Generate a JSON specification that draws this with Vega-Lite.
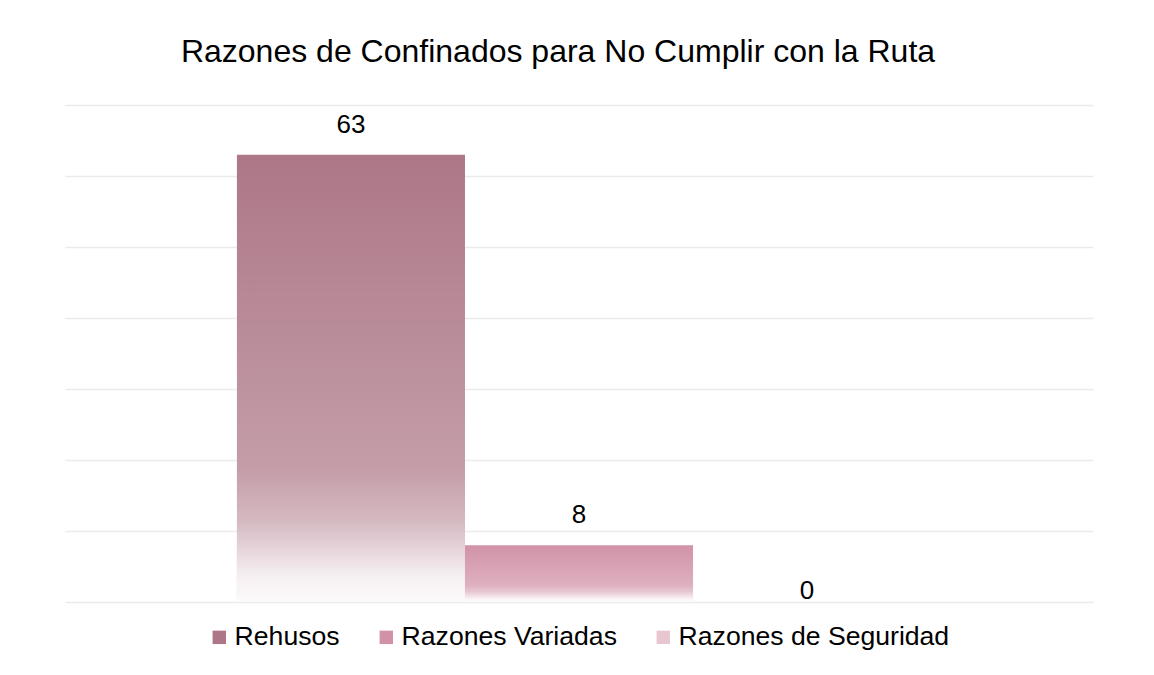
{
  "$schema": "https://vega.github.io/schema/vega-lite/v6.json",
  "width": 1028,
  "height": 497,
  "autosize": {"type": "none"},
  "padding": {"left": 65, "top": 105, "right": 61, "bottom": 73},
  "background": "white",
  "config": {"view": {"stroke": null}, "font": "Liberation Sans"},
  "title": {
    "text": "Razones de Confinados para No Cumplir con la Ruta",
    "fontSize": 32,
    "font": "Liberation Sans",
    "fontWeight": "normal",
    "color": "#000000",
    "anchor": "middle",
    "offset": 36,
    "dx": -21
  },
  "data": {
    "values": [
      {"razon": "Rehusos", "confinados": 63},
      {"razon": "Razones Variadas", "confinados": 8},
      {"razon": "Razones de Seguridad", "confinados": 0}
    ]
  },
  "encoding": {
    "x": {
      "field": "razon",
      "type": "nominal",
      "sort": null,
      "scale": {"paddingInner": 0, "paddingOuter": 0.754},
      "axis": null
    },
    "y": {
      "field": "confinados",
      "type": "quantitative",
      "scale": {"domain": [0, 70], "nice": false},
      "axis": {
        "values": [0, 10, 20, 30, 40, 50, 60, 70],
        "grid": true,
        "gridColor": "#EBEBEB",
        "gridWidth": 1.5,
        "domain": false,
        "ticks": false,
        "labels": false,
        "title": null
      }
    }
  },
  "layer": [
    {
      "mark": {"type": "bar"},
      "encoding": {
        "color": {
          "field": "razon",
          "type": "nominal",
          "sort": null,
          "scale": {
            "domain": ["Rehusos", "Razones Variadas", "Razones de Seguridad"],
            "range": ["#AD7787", "#D192A7", "#E8C6D0"]
          },
          "legend": {
            "orient": "none",
            "legendX": 141,
            "legendY": 519,
            "direction": "horizontal",
            "title": null,
            "labelFontSize": 26.6,
            "labelFont": "Liberation Sans",
            "labelColor": "#000000",
            "labelLimit": 0,
            "symbolType": "square",
            "symbolSize": 180,
            "symbolStrokeWidth": 0,
            "symbolOpacity": 1,
            "labelOffset": 2,
            "columnPadding": 33
          }
        }
      }
    },
    {
      "mark": {
        "type": "bar",
        "color": {
          "gradient": "linear",
          "x1": 0, "y1": 0, "x2": 0, "y2": 1,
          "stops": [
            {"offset": 0, "color": "rgba(255,255,255,0)"},
            {"offset": 0.7, "color": "rgba(255,255,255,0.28)"},
            {"offset": 0.82, "color": "rgba(255,255,255,0.49)"},
            {"offset": 0.94, "color": "rgba(255,255,255,0.88)"},
            {"offset": 1, "color": "rgba(255,255,255,0.97)"}
          ]
        }
      }
    },
    {
      "transform": [{"filter": "datum.confinados > 0"}],
      "mark": {"type": "text", "baseline": "bottom", "dy": -17, "fontSize": 26, "font": "Liberation Sans", "color": "#000000"},
      "encoding": {"text": {"field": "confinados", "type": "quantitative"}}
    },
    {
      "transform": [{"filter": "datum.confinados == 0"}],
      "mark": {"type": "text", "baseline": "bottom", "dy": 2, "fontSize": 26, "font": "Liberation Sans", "color": "#000000"},
      "encoding": {"text": {"field": "confinados", "type": "quantitative"}}
    }
  ]
}
